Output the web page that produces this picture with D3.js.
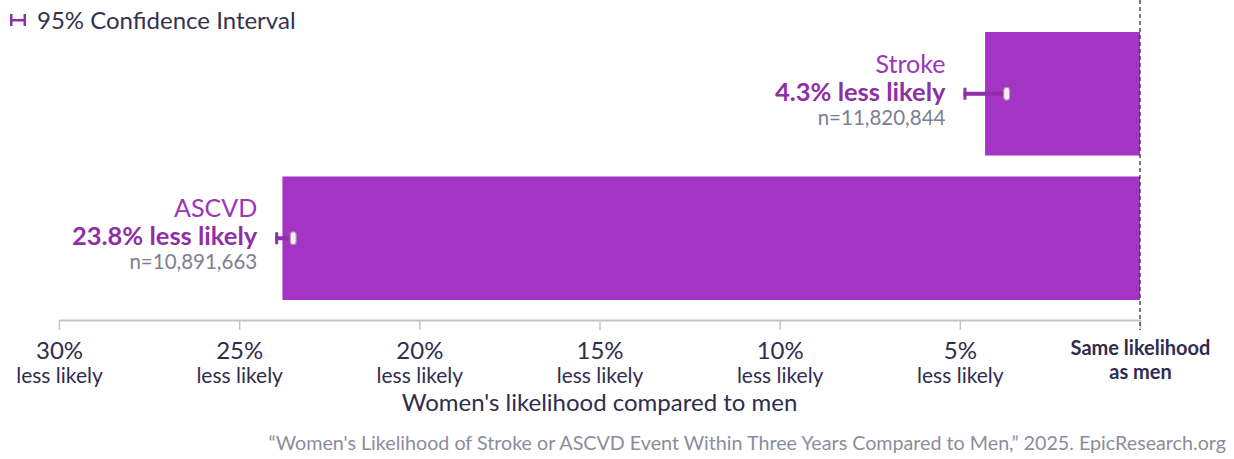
<!DOCTYPE html>
<html>
<head>
<meta charset="utf-8">
<script src="https://cdn.jsdelivr.net/npm/d3@7"></script>
<style>
  body { margin: 0; background: #fff; }
  text { font-family: Lato, "Noto Sans", sans-serif; }
</style>
</head>
<body>
<script>
// data
var categories = ['Stroke', 'ASCVD'];
var pctLess = [4.3, 23.8];
var ciLow = [3.7, 23.5];
var ciHigh = [4.9, 24.0];
var sampleN = ['n=11,820,844', 'n=10,891,663'];
var tickValues = [30, 25, 20, 15, 10, 5, 0];

var svg = d3.select('body').append('svg').attr('width', 1234).attr('height', 459);

var x = d3.scaleLinear().domain([30, 0]).range([59, 1140]);
var y = d3.scaleBand().domain(categories).range([32, 300]).paddingInner(0.145);

// legend
var leg = svg.append('g');
leg.append('rect').attr('x', 10).attr('y', 19).attr('width', 16).attr('height', 2.5).attr('fill', '#8e2fa8');
leg.append('rect').attr('x', 10).attr('y', 14).attr('width', 2.5).attr('height', 12).attr('fill', '#8e2fa8');
leg.append('rect').attr('x', 23.5).attr('y', 14).attr('width', 2.5).attr('height', 12).attr('fill', '#8e2fa8');
leg.append('text').attr('x', 37).attr('y', 29).attr('font-size', 24).attr('fill', '#35324f')
  .text('95% Confidence Interval');

// axis
var axis = d3.axisBottom(x).tickValues(tickValues).tickSize(10).tickSizeOuter(0).tickFormat('');
var ax = svg.append('g').attr('transform', 'translate(0,320)').call(axis);
ax.select('.domain').attr('stroke', '#c4c4c8').attr('stroke-width', 2);
ax.selectAll('.tick line').attr('stroke', '#c4c4c8').attr('stroke-width', 1.5);
ax.selectAll('.tick').each(function (d) {
  var t = d3.select(this);
  if (d === 0) {
    t.append('text').attr('y', 35).attr('text-anchor', 'middle').attr('font-size', 20)
      .attr('font-weight', 'bold').attr('fill', '#2f2d4e').text('Same likelihood');
    t.append('text').attr('y', 59).attr('text-anchor', 'middle').attr('font-size', 20)
      .attr('font-weight', 'bold').attr('fill', '#2f2d4e').text('as men');
  } else {
    t.append('text').attr('y', 39).attr('text-anchor', 'middle').attr('font-size', 24)
      .attr('fill', '#2f2d4e').text(d + '%');
    t.append('text').attr('y', 63).attr('text-anchor', 'middle').attr('font-size', 21)
      .attr('fill', '#2f2d4e').text('less likely');
  }
});
svg.append('text').attr('x', (x(30) + x(0)) / 2).attr('y', 411).attr('text-anchor', 'middle')
  .attr('font-size', 24).attr('fill', '#2f2d4e').text("Women's likelihood compared to men");

// bars
svg.selectAll('.bar').data(categories).enter().append('rect')
  .attr('class', 'bar')
  .attr('x', function (d, i) { return x(pctLess[i]); })
  .attr('y', function (d) { return y(d); })
  .attr('width', function (d, i) { return x(0) - x(pctLess[i]); })
  .attr('height', y.bandwidth())
  .attr('fill', '#a435c4');

// reference line
svg.append('line').attr('x1', x(0)).attr('x2', x(0)).attr('y1', 0).attr('y2', 330)
  .attr('stroke', '#2f2d4e').attr('stroke-width', 1.3).attr('stroke-dasharray', '4,3');

// confidence intervals
categories.forEach(function (c, i) {
  var cy = y(c) + y.bandwidth() / 2;
  var g = svg.append('g');
  g.append('rect').attr('x', x(ciHigh[i])).attr('y', cy - 2)
    .attr('width', x(ciLow[i]) - x(ciHigh[i])).attr('height', 4).attr('fill', '#8e2fa8');
  g.append('rect').attr('x', x(ciHigh[i])).attr('y', cy - 6).attr('width', 3).attr('height', 12)
    .attr('fill', '#8e2fa8');
  g.append('rect').attr('x', x(ciLow[i]) - 3).attr('y', cy - 6.5).attr('width', 6).attr('height', 13)
    .attr('rx', 3).attr('fill', '#f6eef8').attr('stroke', '#a58bb0').attr('stroke-width', 1.2);

  var tx = x(ciHigh[i]) - 18;
  g.append('text').attr('x', tx).attr('y', cy - 21).attr('text-anchor', 'end')
    .attr('font-size', 25).attr('fill', '#9a36ba').text(c);
  g.append('text').attr('x', tx).attr('y', cy + 7).attr('text-anchor', 'end')
    .attr('font-size', 25.5).attr('font-weight', 'bold').attr('fill', '#8e2fa8')
    .text(pctLess[i] + '% less likely');
  g.append('text').attr('x', tx).attr('y', cy + 31).attr('text-anchor', 'end')
    .attr('font-size', 20.5).attr('fill', '#7d8090').text(sampleN[i]);
});

// source
svg.append('text').attr('x', 1226).attr('y', 450).attr('text-anchor', 'end')
  .attr('font-size', 19.7).attr('fill', '#8b8d9c')
  .text('\u201cWomen\'s Likelihood of Stroke or ASCVD Event Within Three Years Compared to Men,\u201d 2025. EpicResearch.org');
</script>
</body>
</html>
